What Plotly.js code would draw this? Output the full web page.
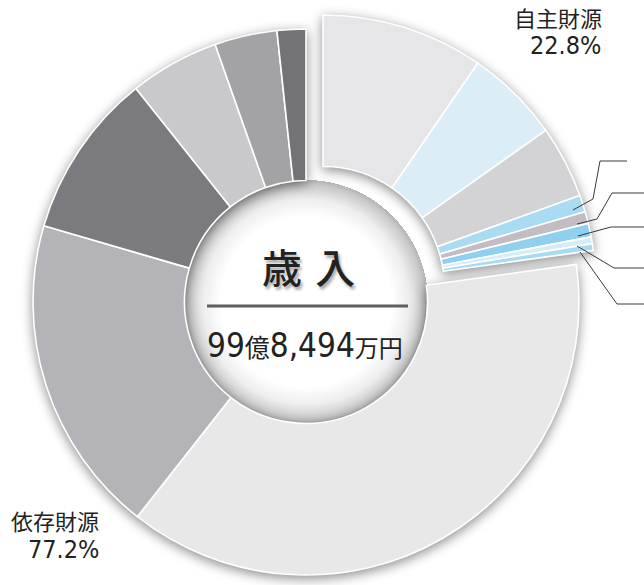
<!DOCTYPE html>
<html>
<head>
<meta charset="utf-8">
<script src="https://cdn.plot.ly/plotly-3.0.1.min.js"></script>
<style>
  html, body { margin: 0; padding: 0; background: #ffffff; }
  #chart {
    width: 644px; height: 585px;
    background: radial-gradient(circle 122px at 306px 302px, #ffffff 0%, #ffffff 70%, #eeeeee 84%, #c9c9c9 96%, #b4b4b4 100%, rgba(255,255,255,0) 100%);
  }
  .pielayer { filter: drop-shadow(0px 3px 6px rgba(0,0,0,0.45)); }
</style>
</head>
<body>
<div id="chart"></div>
<script>
// 自主財源 (22.8%)
const jishuLabels = ['町税', '繰越金', '諸収入', '繰入金', '使用料及び手数料', '分担金及び負担金', '財産収入', '寄附金'];
const jishuValues = [9.6, 5.6, 4.3, 1.0, 0.7, 0.8, 0.4, 0.4];
const jishuColors = ['#e6e6e8', '#dbedf7', '#d3d3d5', '#a9dcf2', '#c3bcc3', '#8fd0ef', '#d6edf7', '#a6dbf2'];
// 依存財源 (77.2%)
const izonLabels = ['地方交付税', '国庫支出金', '町債', '県支出金', '地方消費税交付金', 'その他'];
const izonValues = [37.8, 18.9, 9.8, 5.3, 3.7, 1.7];
const izonColors = ['#e8e8e9', '#b4b4b8', '#7b7b7f', '#c9c9cb', '#a3a3a6', '#737377'];

const groupLabels = ['自主財源', '依存財源'];
const groupShares = ['22.8%', '77.2%'];
const totalLabel = '歳入';
const totalAmount = ['99', '億', '8,494', '万円'];

const W = 644, H = 585;
const px = x => x / W;
const py = y => 1 - y / H;

const sum = a => a.reduce((s, v) => s + v, 0);
const clear = 'rgba(0,0,0,0)';

// 依存財源 ring (with the 自主財源 share left empty)
const traceIzon = {
  type: 'pie',
  labels: ['(自主財源)'].concat(izonLabels),
  values: [sum(jishuValues)].concat(izonValues),
  sort: false, direction: 'clockwise', rotation: 0,
  hole: 0.445, textinfo: 'none', hoverinfo: 'label+percent',
  marker: {
    colors: [clear].concat(izonColors),
    line: { color: [clear].concat(izonColors.map(() => '#ffffff')), width: [0].concat(izonColors.map(() => 1.6)) }
  },
  domain: { x: [px(33), px(579)], y: [py(575), py(29)] },
  showlegend: false
};

// 自主財源 ring, pulled out to the upper right
const traceJishu = {
  type: 'pie',
  labels: jishuLabels.concat(['(依存財源)']),
  values: jishuValues.concat([sum(izonValues)]),
  sort: false, direction: 'clockwise', rotation: 0,
  hole: 0.445, textinfo: 'none', hoverinfo: 'label+percent',
  marker: {
    colors: jishuColors.concat([clear]),
    line: { color: jishuColors.map(() => '#ffffff').concat([clear]), width: jishuColors.map(() => 1.6).concat([0]) }
  },
  domain: { x: [px(50), px(596)], y: [py(561), py(15)] },
  showlegend: false
};

function leader(points) {
  return {
    type: 'path', xref: 'paper', yref: 'paper',
    path: points.map((p, i) => (i ? 'L' : 'M') + px(p[0]) + ',' + py(p[1])).join(' '),
    line: { color: '#3a3a3a', width: 1 }
  };
}

const shapes = [
  leader([[573, 210], [593, 199], [600, 161], [627, 161]]),
  leader([[577, 224], [597, 219], [612, 193], [644, 193]]),
  leader([[578, 236], [611, 227], [644, 227]]),
  leader([[577, 246], [614, 268], [644, 268]]),
  leader([[580, 252], [617, 304], [644, 304]]),
  { type: 'line', xref: 'paper', yref: 'paper', x0: px(207), x1: px(408), y0: py(306), y1: py(306),
    line: { color: '#5f5f5f', width: 3 } }
];

const jp = '"Noto Sans CJK JP", "Noto Sans", sans-serif';
const num = '"Liberation Sans Narrow", "DejaVu Sans Condensed", "Liberation Sans", Arial, sans-serif';
const jpInline = jp.replace(/"/g, "'");

function ann(x, y, text, opts) {
  return Object.assign({ xref: 'paper', yref: 'paper', x: px(x), y: py(y), text: text, showarrow: false,
    xanchor: 'right', yanchor: 'middle' }, opts);
}

const annotations = [
  ann(604, 17, groupLabels[0], { font: { family: jp, size: 22, color: '#222' } }),
  ann(603, 46, groupShares[0], { font: { family: num, size: 25, color: '#222' } }),
  ann(101, 520, groupLabels[1], { font: { family: jp, size: 22, color: '#222' } }),
  ann(101, 549, groupShares[1], { font: { family: num, size: 25, color: '#222' } }),
  ann(308.5, 266.5, totalLabel[0] + '\u2004' + totalLabel[1], { xanchor: 'center',
    font: { family: jp, size: 40, color: '#222', weight: 500, shadow: '2px 3px 3px rgba(0,0,0,0.35)' } }),
  ann(305, 345,
    totalAmount[0] + '<span style="font-family:' + jpInline + ';font-size:25px">' + totalAmount[1] + '</span>' +
    totalAmount[2] + '<span style="font-family:' + jpInline + ';font-size:24px">' + totalAmount[3] + '</span>',
    { xanchor: 'center', font: { family: num, size: 33, color: '#222' } })
];

const layout = {
  width: W, height: H,
  margin: { l: 0, r: 0, t: 0, b: 0 },
  paper_bgcolor: 'rgba(0,0,0,0)',
  plot_bgcolor: 'rgba(0,0,0,0)',
  shapes: shapes,
  annotations: annotations,
  showlegend: false
};

Plotly.newPlot('chart', [traceIzon, traceJishu], layout, { displayModeBar: false, staticPlot: true });
</script>
</body>
</html>
